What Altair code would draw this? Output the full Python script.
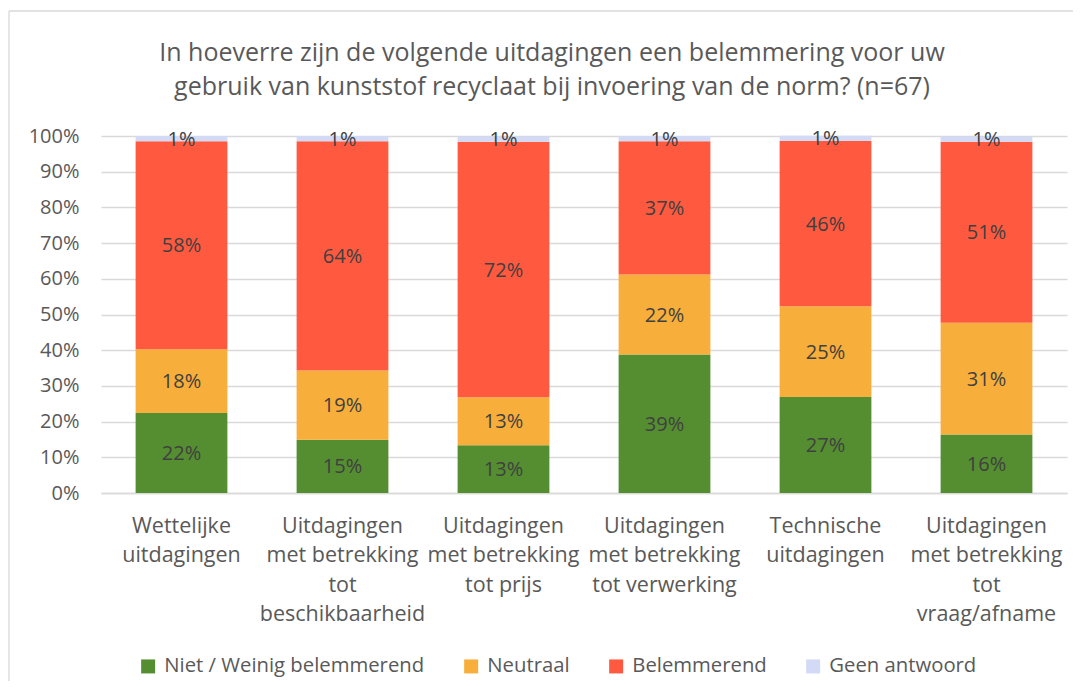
import altair as alt
import pandas as pd

categories = [
    "Wettelijke\nuitdagingen",
    "Uitdagingen\nmet betrekking\ntot\nbeschikbaarheid",
    "Uitdagingen\nmet betrekking\ntot prijs",
    "Uitdagingen\nmet betrekking\ntot verwerking",
    "Technische\nuitdagingen",
    "Uitdagingen\nmet betrekking\ntot\nvraag/afname",
]
series = ["Niet / Weinig belemmerend", "Neutraal", "Belemmerend", "Geen antwoord"]
colors = ["#548E31", "#F8AE3A", "#FF5A40", "#D2DAF5"]

niet_weinig = [0.224, 0.149, 0.134, 0.388, 0.269, 0.164]
neutraal = [0.179, 0.194, 0.134, 0.224, 0.254, 0.313]
belemmerend = [0.582, 0.642, 0.716, 0.373, 0.463, 0.507]
geen_antwoord = [0.0149, 0.0149, 0.0149, 0.0149, 0.0149, 0.0149]
y_ticks = [0.0, 0.1, 0.2, 0.3, 0.4, 0.5, 0.6, 0.7, 0.8, 0.9, 1.0]

title_lines = [
    "In hoeverre zijn de volgende uitdagingen een belemmering voor uw",
    "gebruik van kunststof recyclaat bij invoering van de norm? (n=67)",
]

rows = []
for si, (name, vals) in enumerate(zip(series, [niet_weinig, neutraal, belemmerend, geen_antwoord])):
    for ci, cat in enumerate(categories):
        rows.append({"categorie": cat, "antwoord": name, "waarde": vals[ci], "rang": si})
df = pd.DataFrame(rows)

FONT = "Open Sans"
GREY = "#595959"

base = alt.Chart(df).transform_stack(
    stack="waarde", groupby=["categorie"], sort=[alt.SortField("rang")], as_=["y0", "y1"]
).transform_calculate(ymid="(datum.y0 + datum.y1) / 2")

x_axis = alt.Axis(
    labelExpr="split(datum.label, '\\n')",
    labelAngle=0,
    labelFont=FONT,
    labelFontSize=21.5,
    labelColor=GREY,
    labelLineHeight=29.5,
    labelPadding=22,
    labelLimit=300,
    ticks=False,
    domainColor="#D9D9D9",
    domainWidth=1.3,
)
x_scale = alt.Scale(paddingInner=0.43, paddingOuter=0.215)

y_axis = alt.Axis(
    format=".0%",
    values=y_ticks,
    labelFont=FONT,
    labelFontSize=20,
    labelColor=GREY,
    labelPadding=22,
    ticks=False,
    domain=False,
    gridColor="#D9D9D9",
    gridWidth=1.3,
)
y_scale = alt.Scale(domain=[0, 1], nice=False)

bars = base.mark_bar().encode(
    x=alt.X("categorie:N", sort=categories, title=None, scale=x_scale, axis=x_axis),
    y=alt.Y("y0:Q", title=None, scale=y_scale, axis=y_axis),
    y2="y1:Q",
    color=alt.Color(
        "antwoord:N",
        sort=series,
        scale=alt.Scale(domain=series, range=colors),
        legend=alt.Legend(
            title=None,
            orient="none",
            direction="horizontal",
            legendX=37,
            legendY=520,
            symbolType="square",
            symbolSize=196,
            symbolStrokeWidth=0,
            labelFont=FONT,
            labelFontSize=20.3,
            labelColor=GREY,
            labelOffset=6,
            columnPadding=36,
            labelLimit=400,
        ),
    ),
    order=alt.Order("rang:Q", sort="ascending"),
)

labels = base.mark_text(font=FONT, fontSize=20, color="#404040", baseline="middle", dy=1).encode(
    x=alt.X("categorie:N", sort=categories, title=None, scale=x_scale, axis=x_axis),
    y=alt.Y("ymid:Q", title=None, scale=y_scale, axis=y_axis),
    text=alt.Text("waarde:Q", format=".0%"),
)

frame = alt.Chart(alt.Data(values=[{"k": 1}]))
left_border = frame.mark_rule(color="#D9D9D9", strokeWidth=1.3).encode(
    x=alt.value(-92), y=alt.value(-125), y2=alt.value(545)
)
top_border = frame.mark_rule(color="#D9D9D9", strokeWidth=1.3).encode(
    x=alt.value(-92), x2=alt.value(972), y=alt.value(-125)
)

chart = alt.layer(bars, labels, left_border, top_border).properties(
    width=966,
    height=357,
    padding={"left": 0, "top": 2, "right": 0, "bottom": 0},
    title=alt.TitleParams(
        text=title_lines,
        anchor="middle",
        dx=-32,
        dy=126,
        font=FONT,
        fontSize=25,
        fontWeight="normal",
        color=GREY,
        lineHeight=34,
        offset=36,
    ),
).configure_view(stroke=None)

chart.save("out.html", embed_options={"renderer": "svg", "actions": False})
